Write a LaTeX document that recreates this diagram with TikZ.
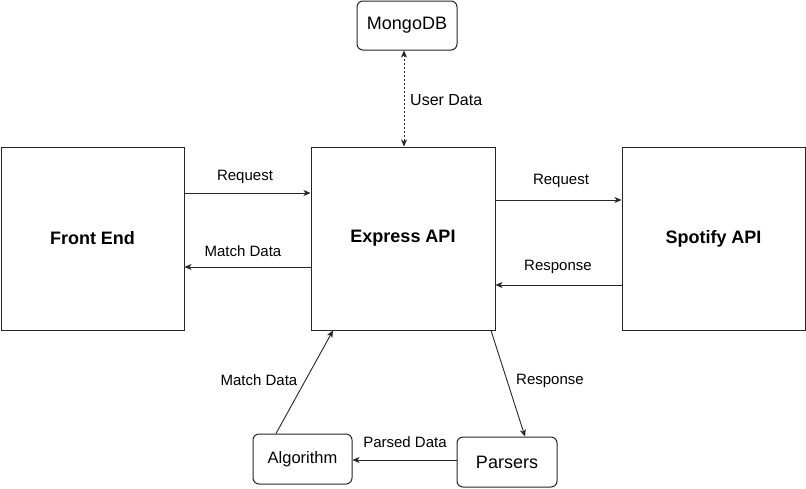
\documentclass[tikz,border=0pt]{standalone}
\usepackage{fontspec}
\setmainfont{Liberation Sans}
\usetikzlibrary{arrows.meta}
\begin{document}
\begin{tikzpicture}[x=1pt,y=-1pt,
  bigbox/.style={draw=black!85,line width=1pt,fill=white,inner sep=0pt,font=\fontsize{18}{21}\selectfont\bfseries},
  smallbox/.style={draw=black!85,line width=1pt,fill=white,rounded corners=6pt,inner sep=0pt,font=\fontsize{18}{21}\selectfont},
  conn/.style={draw=black!85,line width=0.9pt,-{Stealth[length=7pt,width=6pt,inset=2pt]}},
  lbl/.style={font=\fontsize{15}{18}\selectfont,inner sep=0pt}]
\fill[white] (0,0) rectangle (806,488);
\useasboundingbox (0,0) rectangle (806,488);
\node[bigbox,minimum width=183pt,minimum height=183pt] (fe) at (92.5,238.5) {Front End};
\node[bigbox,minimum width=184pt,minimum height=183pt] (express) at (403,238.5) {Express API};
\node[bigbox,minimum width=183pt,minimum height=183pt] (spotify) at (713.5,238.5) {Spotify API};
\node[smallbox,minimum width=100pt,minimum height=49pt] (mongo) at (407,25.5) {MongoDB};
\node[smallbox,minimum width=99pt,minimum height=50pt,font=\fontsize{16.5}{20}\selectfont] (algo) at (302.5,459) {Algorithm};
\node[smallbox,minimum width=100pt,minimum height=50pt] (parsers) at (507,462) {Parsers};
% MongoDB <-> Express
\draw[conn,dash pattern=on 2pt off 2pt,{Stealth[length=7pt,width=6pt,inset=2pt]}-{Stealth[length=7pt,width=6pt,inset=2pt]}] ([xshift=-3pt]mongo.south) -- ([xshift=-3pt]mongo.south |- express.north);
\node[lbl,anchor=west,font=\fontsize{16}{19}\selectfont] (lud) at (410,100) {User Data};
% Front End <-> Express
\draw[conn] ([yshift=45.5pt]fe.east) -- ([yshift=45.5pt]express.west);
\node[lbl] (lreq1) at (245,177) {Request};
\draw[conn] ([yshift=-28.5pt]express.west) -- ([yshift=-28.5pt]fe.east);
\node[lbl] (lmd1) at (243,251) {Match Data};
% Express <-> Spotify
\draw[conn] ([yshift=38.5pt]express.east) -- ([yshift=38.5pt]spotify.west);
\node[lbl] (lreq2) at (561,181) {Request};
\draw[conn] ([yshift=-46.5pt]spotify.west) -- ([yshift=-46.5pt]express.east);
\node[lbl] (lresp1) at (558,267) {Response};
% Express -> Parsers
\draw[conn] ([xshift=88pt]express.south) -- ([xshift=18pt]parsers.north);
\node[lbl] (lresp2) at (550,381) {Response};
% Parsers -> Algorithm
\draw[conn] ([yshift=2pt]parsers.west) -- ([yshift=2pt]parsers.west -| algo.east);
\node[lbl] (lpd) at (405,442) {Parsed Data};
% Algorithm -> Express
\draw[conn] ([xshift=-26.5pt]algo.north) -- ([xshift=-70pt]express.south);
\node[lbl] (lmd2) at (259,380) {Match Data};
\end{tikzpicture}
\end{document}
